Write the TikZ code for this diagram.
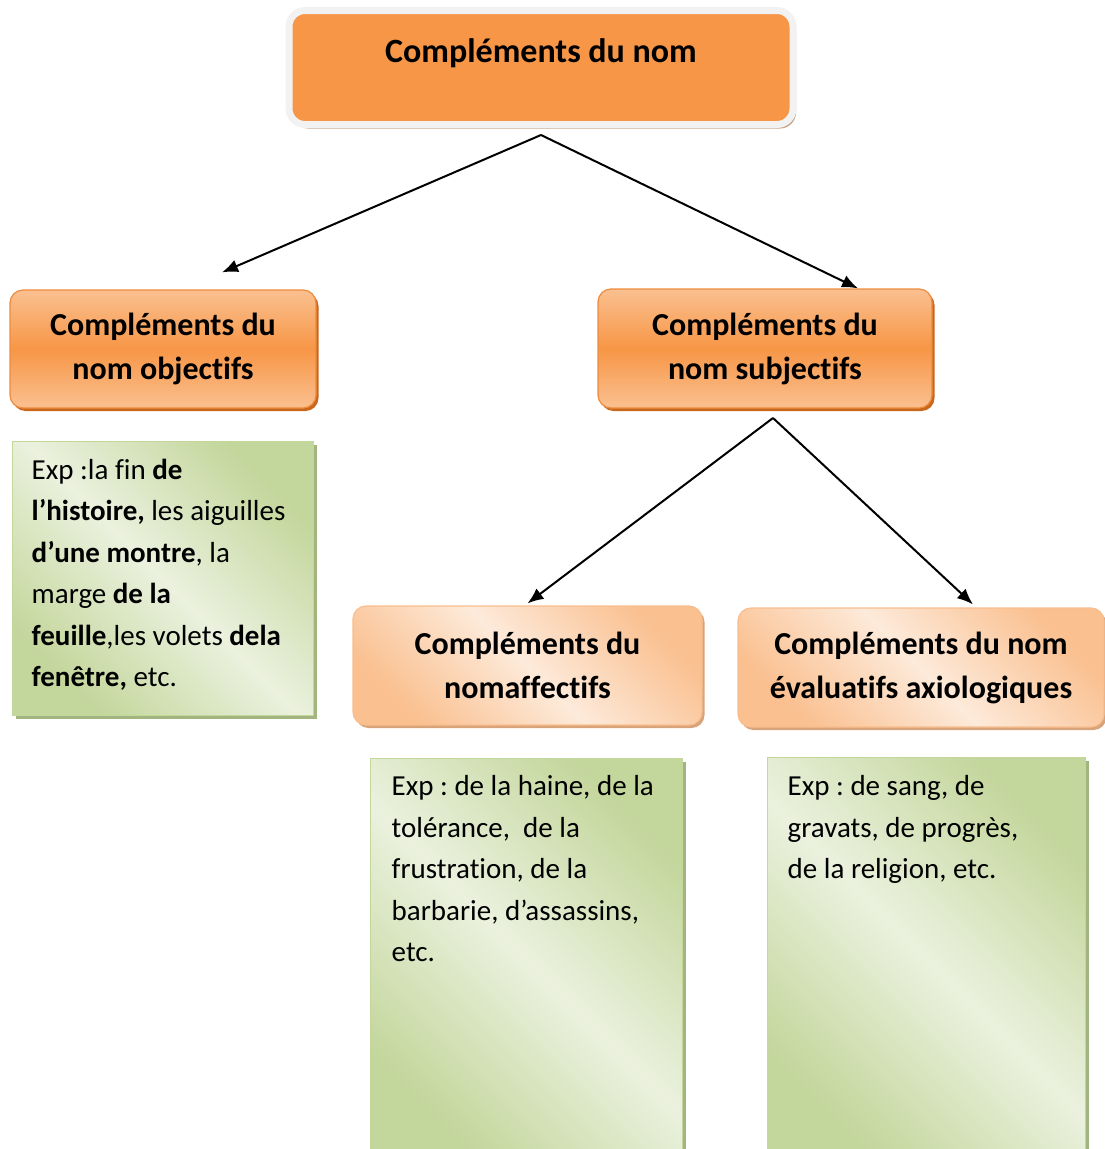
\documentclass[tikz,border=0pt]{standalone}
\usepackage{fontspec}
\setmainfont{Carlito}[Ligatures=NoCommon]
\usepackage{tikz}
\usetikzlibrary{positioning}
\usetikzlibrary{shadows}
\usetikzlibrary{arrows.meta}

\definecolor{naranja}{HTML}{F79646}
\definecolor{naranjaclaro}{HTML}{FAC090}
\definecolor{naranjaborde}{HTML}{EE8A3C}
\definecolor{naranjasombra}{HTML}{C8681E}
\definecolor{durazno}{HTML}{FDEADA}
\definecolor{duraznoborde}{HTML}{F8BE8E}
\definecolor{duraznosombra}{HTML}{D9A37A}
\definecolor{marco}{HTML}{F2F2F2}
\definecolor{marcosombra}{HTML}{C6A283}
\definecolor{verde}{HTML}{C3D69B}
\definecolor{verdeclaro}{HTML}{EBF1DE}
\definecolor{verdesombra}{HTML}{A2B57E}

\newcommand{\titulo}{\fontsize{32}{44}\selectfont\bfseries}
\newcommand{\titulogrande}{\fontsize{34}{44}\selectfont\bfseries}
\newcommand{\cuerpo}{\fontsize{29}{41.5}\selectfont\frenchspacing}

\begin{document}
\begin{tikzpicture}[x=1pt, y=-1pt,
    caja/.style={line width=1.2pt, rounded corners=13pt, align=center, font=\titulo},
    objetivo/.style={caja, draw=naranjaborde, top color=naranjaclaro, bottom color=naranjaclaro,
        middle color=naranja,
        drop shadow={shadow xshift=2.5pt, shadow yshift=-3pt, fill=naranjasombra, opacity=1}},
    afectivo/.style={caja, draw=duraznoborde, top color=naranjaclaro, bottom color=naranjaclaro,
        middle color=durazno, shading angle=-45,
        drop shadow={shadow xshift=2.5pt, shadow yshift=-3pt, fill=duraznosombra, opacity=1}},
    ejemplo/.style={draw=verde, line width=1pt, top color=verde, bottom color=verde,
        middle color=verdeclaro, shading angle=-45,
        drop shadow={shadow xshift=4pt, shadow yshift=-4pt, fill=verdesombra, opacity=1}},
    texto/.style={inner sep=0pt, align=left, font=\cuerpo},
    flecha/.style={-{Latex[length=16pt, width=13pt]}, line width=2pt}]

    \useasboundingbox (0,0) rectangle (1105,1149);

    % Cajas
    \node[draw=marco, line width=7pt, fill=naranja, rounded corners=16pt, font=\titulogrande,
        minimum width=504pt, minimum height=114pt, text height=25pt, text depth=36pt,
        drop shadow={shadow xshift=3pt, shadow yshift=-4pt, fill=marcosombra, opacity=1}]
        (raiz) at (541,67.5) {Compléments du nom};

    \node[objetivo, minimum width=306pt, minimum height=118pt] (objetivos) at (163,349)
        {Compléments du\\ nom objectifs};
    \node[objetivo, minimum width=334pt, minimum height=119pt] (subjetivos) at (765,348.5)
        {Compléments du\\ nom subjectifs};
    \node[afectivo, minimum width=349pt, minimum height=119pt] (afectivos) at (527.5,665.5)
        {Compléments du\\ nomaffectifs};
    \node[afectivo, minimum width=366pt, minimum height=119pt] (axiologicos) at (921,667.5)
        {Compléments du nom\\ évaluatifs axiologiques};

    % Ejemplos
    \node[ejemplo, minimum width=301pt, minimum height=274pt] (exObj) at (162.5,578) {};
    \node[ejemplo, minimum width=312pt, minimum height=402pt] (exAff) at (526,959) {};
    \node[ejemplo, minimum width=318pt, minimum height=403pt] (exAxi) at (926,958.5) {};

    \node[texto, below right=18pt and 20pt of exObj.north west] (tObj)
        {Exp :la fin \textbf{de}\\ \textbf{l’histoire,} les aiguilles\\ \textbf{d’une montre}, la\\
         marge \textbf{de la}\\ \textbf{feuille},les volets \textbf{dela}\\ \textbf{fenêtre,} etc.};
    \node[texto, below right=18pt and 22pt of exAff.north west] (tAff)
        {Exp : de la haine, de la\\ tolérance,~ de la\\ frustration, de la\\ barbarie, d’assassins,\\ etc.};
    \node[texto, below right=19pt and 21pt of exAxi.north west] (tAxi)
        {Exp : de sang, de\\ gravats, de progrès,\\ de la religion, etc.};

    % Flechas
    \coordinate (s1) at (541,135);
    \coordinate (s2) at (773,418);
    \draw[flecha] (s1) -- ([xshift=59pt, yshift=17pt]objetivos.north);
    \draw[flecha] (s1) -- ([xshift=93pt]subjetivos.north);
    \draw[flecha] (s2) -- ([yshift=2pt]afectivos.north);
    \draw[flecha] (s2) -- ([xshift=52pt, yshift=3pt]axiologicos.north);
\end{tikzpicture}
\end{document}
